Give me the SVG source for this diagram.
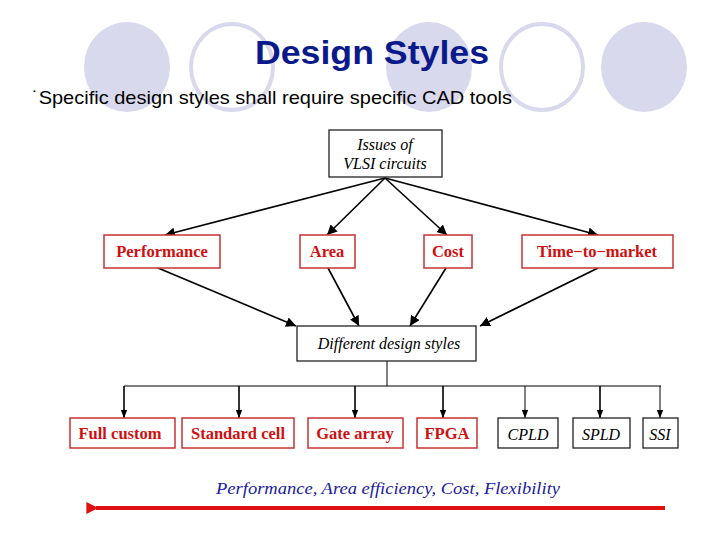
<svg xmlns="http://www.w3.org/2000/svg" width="720" height="540" viewBox="0 0 720 540">
<style>
.bf{fill:#d9d9ee}.bo{fill:none;stroke:#d9d9ee;stroke-width:4}
.rb{fill:#fff;stroke:#c83232;stroke-width:1.5}
.kb{fill:#fff;stroke:#222;stroke-width:1.3}
.rt{font-family:"Liberation Serif",serif;font-weight:bold;font-size:16.5px;fill:#d01010;text-anchor:middle}
.kt{font-family:"Liberation Serif",serif;font-style:italic;font-size:16px;fill:#000;text-anchor:middle}
.c{stroke:#000;stroke-width:1.6;fill:none}
.c2{stroke:#000;stroke-width:1;fill:none}
</style>
<defs><marker id="a" viewBox="0 0 10 10" refX="10" refY="5" markerWidth="8" markerHeight="8" markerUnits="userSpaceOnUse" orient="auto"><path d="M0,1 L10,5 L0,9 z" fill="#000"/></marker>
<marker id="b" viewBox="0 0 10 10" refX="10" refY="5" markerWidth="10" markerHeight="10" markerUnits="userSpaceOnUse" orient="auto"><path d="M0,0 L10,5 L0,10 z" fill="#000"/></marker>
<marker id="r" viewBox="0 0 10 10" refX="2" refY="5" markerWidth="14" markerHeight="12" markerUnits="userSpaceOnUse" orient="auto"><path d="M0,5 L10,0 L10,10 z" fill="#e01010"/></marker></defs>
<ellipse class="bf" cx="127" cy="67" rx="43" ry="45"/>
<ellipse class="bo" cx="232" cy="67" rx="41" ry="43"/>
<ellipse class="bf" cx="429" cy="67" rx="43" ry="45"/>
<ellipse class="bo" cx="542" cy="67" rx="41" ry="43"/>
<ellipse class="bf" cx="644" cy="67" rx="43" ry="45"/>
<text x="372" y="64" text-anchor="middle" font-family="Liberation Sans,sans-serif" font-weight="bold" font-size="34" textLength="234" lengthAdjust="spacingAndGlyphs" fill="#0a1a8a">Design Styles</text>
<text x="32" y="104" font-family="Liberation Sans,sans-serif" font-size="19" textLength="480" lengthAdjust="spacingAndGlyphs" fill="#000">˙Specific design styles shall require specific CAD tools</text>
<g id="connectors">
<path class="c" marker-end="url(#b)" d="M385,178 L165,235"/>
<path class="c" marker-end="url(#b)" d="M385,178 L327,235"/>
<path class="c" marker-end="url(#b)" d="M385,178 L447,235"/>
<path class="c" marker-end="url(#b)" d="M385,178 L598,235"/>
<path class="c" marker-end="url(#b)" d="M158,268 L296,326"/>
<path class="c" marker-end="url(#b)" d="M328,268 L359,326"/>
<path class="c" marker-end="url(#b)" d="M446,268 L410,326"/>
<path class="c" marker-end="url(#b)" d="M598,268 L480,326"/>
<path class="c2" d="M387,361 V386 M124,386 H661"/>
<path class="c" marker-end="url(#a)" d="M124,386 V418"/>
<path class="c" marker-end="url(#a)" d="M239,386 V418"/>
<path class="c" marker-end="url(#a)" d="M355,386 V418"/>
<path class="c" marker-end="url(#a)" d="M443,386 V418"/>
<path class="c2" marker-end="url(#a)" d="M525,386 V418"/>
<path class="c" marker-end="url(#a)" d="M600,386 V418"/>
<path class="c2" marker-end="url(#a)" d="M660,386 V418"/>
</g>
<g id="issues"><rect class="kb" x="329" y="130" width="113" height="47"/><text class="kt" x="385" y="150">Issues of</text><text class="kt" x="385" y="169">VLSI circuits</text></g>
<g id="perf"><rect class="rb" x="104" y="235" width="116" height="33"/><text class="rt" x="162" y="257">Performance</text></g>
<g id="area"><rect class="rb" x="300" y="235" width="55" height="33"/><text class="rt" x="327" y="257">Area</text></g>
<g id="cost"><rect class="rb" x="424" y="235" width="48" height="33"/><text class="rt" x="448" y="257">Cost</text></g>
<g id="ttm"><rect class="rb" x="522" y="235" width="151" height="33"/><text class="rt" x="597" y="257">Time−to−market</text></g>
<g id="dds"><rect class="kb" x="297" y="326" width="179" height="35"/><text class="kt" x="389" y="349">Different design styles</text></g>
<g id="full"><rect class="rb" x="70" y="418" width="105" height="30"/><text class="rt" x="120" y="439">Full custom</text></g>
<g id="std"><rect class="rb" x="182" y="418" width="112" height="30"/><text class="rt" x="238" y="439">Standard cell</text></g>
<g id="gate"><rect class="rb" x="308" y="418" width="95" height="30"/><text class="rt" x="355" y="439">Gate array</text></g>
<g id="fpga"><rect class="rb" x="417" y="418" width="60" height="30"/><text class="rt" x="447" y="439">FPGA</text></g>
<g id="cpld"><rect class="kb" x="498" y="418" width="60" height="30"/><text class="kt" x="528" y="440">CPLD</text></g>
<g id="spld"><rect class="kb" x="573" y="418" width="57" height="30"/><text class="kt" x="601" y="440">SPLD</text></g>
<g id="ssi"><rect class="kb" x="643" y="418" width="35" height="30"/><text class="kt" x="660" y="440">SSI</text></g>
<text x="388" y="494" text-anchor="middle" font-family="Liberation Serif,serif" font-style="italic" font-size="17" textLength="344" lengthAdjust="spacingAndGlyphs" fill="#1a1aa0">Performance, Area efficiency, Cost, Flexibility</text>
<path d="M665,508 H96" stroke="#e01010" stroke-width="4" marker-end="url(#r)"/>
</svg>
